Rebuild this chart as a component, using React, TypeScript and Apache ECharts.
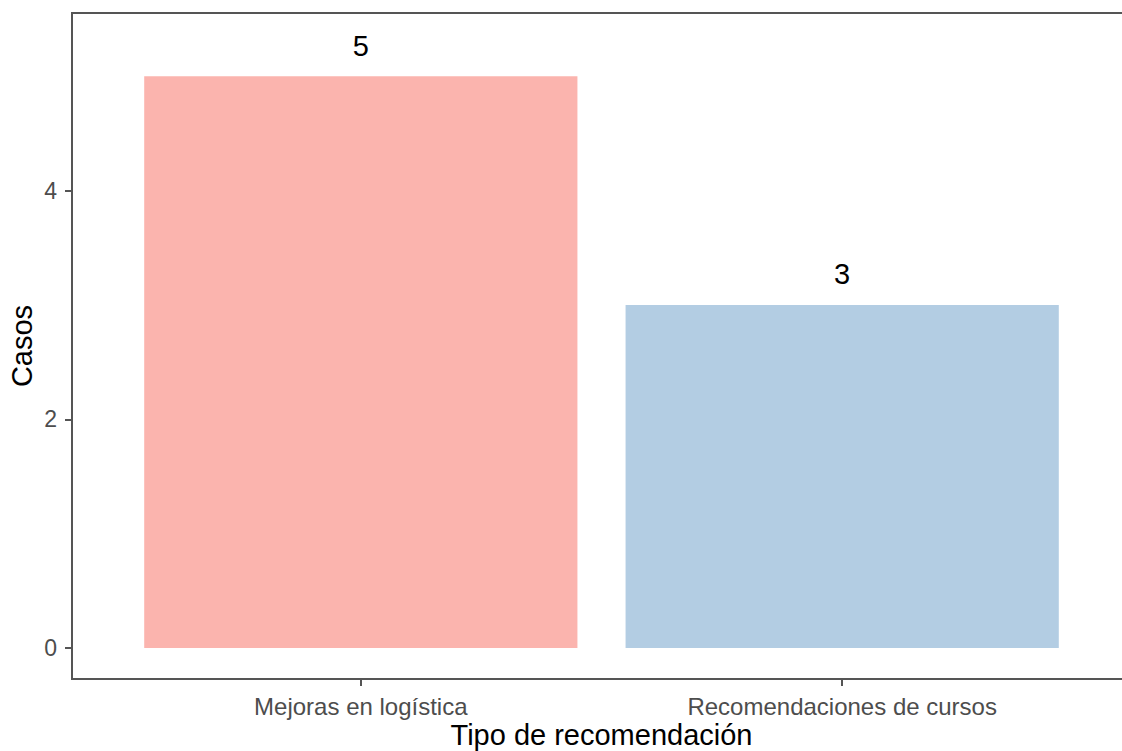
import React, { useEffect, useRef } from "react";
import * as echarts from "echarts";

const categories = ["Mejoras en logística", "Recomendaciones de cursos"];
const casos = [5, 3];
const barColors = ["#FBB4AE", "#B3CDE3"];
const yTicks = [0, 2, 4];
const xTitle = "Tipo de recomendación";
const yTitle = "Casos";

const FONT = "'Liberation Sans', Arial, sans-serif";

export default function App() {
  const ref = useRef<HTMLDivElement>(null);
  useEffect(() => {
    if (!ref.current) return;
    const chart = echarts.init(ref.current, null, { renderer: "svg" });
    const positions = categories.map((_, i) => i + 1);
    chart.setOption({
      animation: false,
      backgroundColor: "#ffffff",
      textStyle: { fontFamily: FONT },
      grid: {
        left: 72,
        top: 13,
        bottom: 72,
        right: -9,
        containLabel: false,
        outerBoundsMode: "none",
        show: true,
        borderColor: "#555555",
        borderWidth: 2,
        backgroundColor: "transparent",
      },
      xAxis: {
        type: "value",
        min: 0.4,
        max: 2.6,
        splitLine: { show: false },
        axisLine: { show: false, onZero: false },
        axisTick: {
          show: true,
          customValues: positions,
          length: 7,
          lineStyle: { color: "#555555", width: 2 },
        },
        axisLabel: {
          customValues: positions,
          formatter: (v: number) => categories[Math.round(v) - 1] ?? "",
          color: "#4D4D4D",
          fontSize: 24,
          fontFamily: FONT,
          margin: 15,
        },
        name: xTitle,
        nameLocation: "middle",
        nameGap: 41,
        nameMoveOverlap: false,
        nameTextStyle: {
          color: "#000000",
          fontSize: 29,
          lineHeight: 29,
          fontFamily: FONT,
        },
      },
      yAxis: {
        type: "value",
        min: -0.271,
        max: 5.553,
        splitLine: { show: false },
        axisLine: { show: false, onZero: false },
        axisTick: {
          show: true,
          customValues: yTicks,
          length: 7,
          lineStyle: { color: "#555555", width: 2 },
        },
        axisLabel: {
          customValues: yTicks,
          color: "#4D4D4D",
          fontSize: 23,
          fontFamily: FONT,
          margin: 15,
        },
        name: yTitle,
        nameLocation: "middle",
        nameGap: 36,
        nameMoveOverlap: false,
        nameTextStyle: { color: "#000000", fontSize: 29, fontFamily: FONT },
      },
      series: [
        {
          type: "bar",
          barWidth: "90%",
          data: casos.map((v, i) => ({
            value: [positions[i], v],
            itemStyle: { color: barColors[i] },
          })),
          label: {
            show: true,
            position: "top",
            distance: 16,
            color: "#000000",
            fontSize: 29,
            fontFamily: FONT,
            formatter: (p: any) => String(p.value[1]),
          },
        },
      ],
    });
    return () => chart.dispose();
  }, []);
  return (
    <div
      ref={ref}
      style={{ position: "fixed", left: 0, top: 0, width: 1122, height: 751 }}
    />
  );
}
